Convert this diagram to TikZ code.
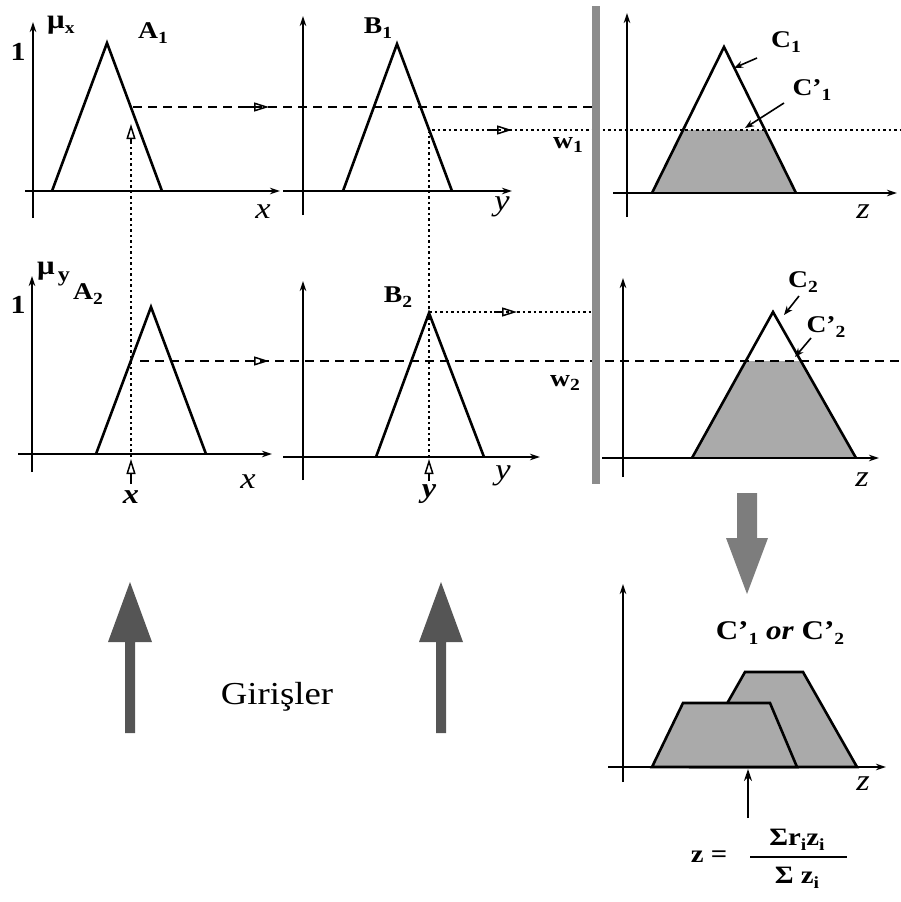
\documentclass[tikz,border=0pt]{standalone}
\usepackage{fontspec}
\setmainfont{Liberation Serif}[FakeStretch=1.15]
\usetikzlibrary{arrows.meta}
\definecolor{fillg}{RGB}{170,170,170}
\definecolor{barg}{RGB}{140,140,140}
\definecolor{darkarr}{RGB}{85,85,85}
\definecolor{grayarr}{RGB}{125,125,125}
\newcommand{\sbs}[1]{\raisebox{-0.4ex}{\fontsize{17}{17}\selectfont #1}}
\begin{document}
\begin{tikzpicture}[x=1pt,y=-1pt,
  axis/.style={line width=2pt,-{Stealth[length=10pt,width=6.5pt]}},
  mf/.style={line width=2.6pt,line join=miter},
  dashln/.style={dash pattern=on 9pt off 6pt,line width=1.9pt},
  dotln/.style={dash pattern=on 2.5pt off 3pt,line width=2pt},
  openarr/.style={line width=1.5pt,-{Triangle[open,length=15pt,width=9pt]}},
  lbl/.style={font=\fontsize{24}{24}\selectfont\bfseries,inner sep=0pt},
  one/.style={font=\fontsize{26}{26}\selectfont\bfseries,inner sep=0pt},
  axl/.style={font=\fontsize{30}{30}\selectfont\itshape,inner sep=0pt},
  pointer/.style={line width=1.6pt,-{Stealth[length=9pt,width=7pt]}},
]
\useasboundingbox (0,0) rectangle (901,902);

% ---------- row 1 ----------
% A1 panel
\draw[axis] (33,218) -- (33,22);
\draw[axis] (25,191) -- (280,191);
\draw[mf] (52,191) -- (107,43) -- (162,191);
\node[one] (one1) at (18,52) {1};
\node[lbl,anchor=west,font=\fontsize{27}{27}\selectfont\bfseries] (mux) at (47,25) {μ\sbs{x}};
\node[lbl] (A1) at (153,33) {A\sbs{1}};
\node[axl] (ax1) at (263,212) {x};
% B1 panel
\draw[axis] (303,215) -- (303,16);
\draw[axis] (283,191) -- (512,191);
\draw[mf] (343,191) -- (397,44) -- (452,191);
\node[lbl] (B1) at (378,28) {B\sbs{1}};
\node[axl] (ay1) at (502,207) {y};
\node[lbl] (w1) at (568,145) {w\sbs{1}};
% C1 panel
\fill[fillg] (652,193) -- (683,130) -- (765,130) -- (796,193) -- cycle;
\draw[axis] (627,217) -- (627,13);
\draw[axis] (613,193) -- (897,193);
\draw[mf] (652,193) -- (724,47) -- (796,193);
\node[lbl] (C1) at (786,42) {C\sbs{1}};
\node[lbl] (Cp1) at (812,90) {C’\sbs{1}};
\draw[pointer] (757,58) -- (734,68);
\draw[pointer] (784,103) -- (745,128);
\node[axl] (az1) at (863,212) {z};

% ---------- row 2 ----------
% A2 panel
\draw[axis] (32,472) -- (32,276);
\draw[axis] (18,454) -- (272,454);
\draw[mf] (96,454) -- (151,307) -- (206,454);
\node[one] (one2) at (18,305) {1};
\node[lbl,font=\fontsize{27}{27}\selectfont\bfseries] (muy) at (46,271) {μ};
\node[lbl] (ysub) at (64,279) {\fontsize{21}{21}\selectfont y};
\node[lbl] (A2) at (88,294) {A\sbs{2}};
\node[axl] (ax2) at (248,482) {x};
% B2 panel
\draw[axis] (303,480) -- (303,281);
\draw[axis] (283,457) -- (540,457);
\draw[mf] (376,457) -- (429,313) -- (484,457);
\node[lbl] (B2) at (398,297) {B\sbs{2}};
\node[axl] (ay2) at (503,476) {y};
\node[lbl] (w2) at (565,383) {w\sbs{2}};
% C2 panel
\fill[fillg] (692,458) -- (746,361) -- (801,361) -- (856,458) -- cycle;
\draw[axis] (623,477) -- (623,278);
\draw[axis] (602,458) -- (879,458);
\draw[mf] (692,458) -- (773,312) -- (856,458);
\node[lbl] (C2) at (803,282) {C\sbs{2}};
\node[lbl] (Cp2) at (826,327) {C’\sbs{2}};
\draw[pointer] (799,296) -- (784,315);
\draw[pointer] (811,338) -- (795,357);
\node[axl] (az2) at (862,480) {z};

% ---------- projection lines ----------
\draw[dashln] (133,107) -- (592,107);
\draw[openarr] (246,107) -- (269,107);
\draw[dotln] (432,130) -- (901,130);
\draw[openarr] (489,130) -- (512,130);
\draw[dashln] (140,361) -- (901,361);
\draw[openarr] (246,361) -- (269,361);
\draw[dotln] (429,312) -- (592,312);
\draw[openarr] (494,312) -- (517,312);
\draw[dotln] (131,457) -- (131,140);
\draw[openarr] (131,144) -- (131,124);
\draw[dotln] (429,457) -- (429,132);
\draw[openarr] (131,484) -- (131,459);
\draw[openarr] (429,481) -- (429,459);
\node[axl,font=\fontsize{28}{28}\selectfont\bfseries\itshape] (xin) at (131,497) {x};
\node[axl,font=\fontsize{28}{28}\selectfont\bfseries\itshape] (yin) at (429,494) {y};

% gray separator bar
\fill[barg] (592,6) rectangle (600,484);

% ---------- aggregation ----------
\fill[grayarr] (737,493) -- (757,493) -- (757,538) -- (768,538) -- (747,594) -- (726,538) -- (737,538) -- cycle;
\node[lbl,font=\fontsize{27}{27}\selectfont\bfseries] (or) at (780,633) {C’\sbs{1} \textit{or} C’\sbs{2}};
\draw[mf,fill=fillg] (691,767) -- (745,672) -- (803,672) -- (857,767) -- cycle;
\draw[mf,fill=fillg] (652,767) -- (683,703) -- (770,703) -- (797,767) -- cycle;
\draw[axis] (623,782) -- (623,584);
\draw[axis] (608,767) -- (886,767);
\node[axl] (az3) at (863,784) {z};
\draw[line width=2pt,-{Stealth[length=12pt,width=8pt]}] (748,818) -- (748,769);
\node[lbl,font=\fontsize{25}{25}\selectfont\bfseries] (zeq) at (709,857) {z =};
\node[lbl,font=\fontsize{25}{25}\selectfont\bfseries] (num) at (797,840) {Σr\sbs{i}z\sbs{i}};
\node[lbl,font=\fontsize{25}{25}\selectfont\bfseries] (den) at (797,878) {Σ z\sbs{i}};
\draw[line width=1.6pt] (750,857) -- (847,857);

% ---------- input arrows ----------
\fill[darkarr] (125,733) -- (135,733) -- (135,642) -- (152,642) -- (130,582) -- (108,642) -- (125,642) -- cycle;
\fill[darkarr] (436,733) -- (446,733) -- (446,642) -- (463,642) -- (441,582) -- (419,642) -- (436,642) -- cycle;
\node[font=\fontsize{32}{32}\selectfont,inner sep=0pt] (gir) at (277,697) {Girişler};
\end{tikzpicture}
\end{document}
